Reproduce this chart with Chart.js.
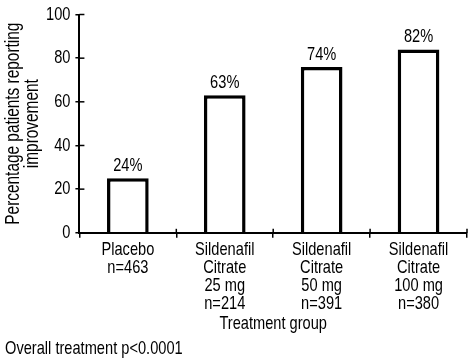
<!DOCTYPE html>
<html><head><meta charset="utf-8">
<script src="https://cdn.jsdelivr.net/npm/chart.js@4/dist/chart.umd.min.js"></script>
<style>html,body{margin:0;padding:0;background:#fff}#wrap{width:471px;height:359px}</style>
</head><body><div id="wrap"><canvas id="c"></canvas></div>
<script>
const categories = [["Placebo","n=463"],["Sildenafil","Citrate","25 mg","n=214"],["Sildenafil","Citrate","50 mg","n=391"],["Sildenafil","Citrate","100 mg","n=380"]];
const barValues = [25, 63, 76, 84];
const valueLabels = ["24%","63%","74%","82%"];
const yTicks = [0, 20, 40, 60, 80, 100];
const yTitle = ["Percentage patients reporting","improvement"];
const xTitle = "Treatment group";
const footerText = "Overall treatment p<0.0001";

const FONT = '"Liberation Sans",Arial,sans-serif';
const SX = 0.77; // horizontal condensing of text (reference uses a condensed face)
const f = (s,lh)=>({family:FONT,size:s,weight:'normal',lineHeight:lh||1});

const canvas = document.getElementById('c');
const c2d = canvas.getContext('2d');
(function condense(ctx){
  const fill = ctx.fillText.bind(ctx);
  const measure = ctx.measureText.bind(ctx);
  ctx.fillText = function(t,x,y){ ctx.save(); ctx.translate(x,y); ctx.scale(SX,1); fill(t,0,0); ctx.restore(); };
  ctx.measureText = function(t){ const m = measure(t); return {width:m.width*SX, actualBoundingBoxAscent:m.actualBoundingBoxAscent, actualBoundingBoxDescent:m.actualBoundingBoxDescent, actualBoundingBoxLeft:m.actualBoundingBoxLeft*SX, actualBoundingBoxRight:m.actualBoundingBoxRight*SX}; };
})(c2d);

const extras = {
  id:'extras',
  afterDatasetsDraw(chart){
    const ctx = chart.ctx;
    const meta = chart.getDatasetMeta(0);
    ctx.save();
    ctx.fillStyle = '#000';
    ctx.font = '19px ' + FONT;
    ctx.textAlign = 'center';
    ctx.textBaseline = 'bottom';
    meta.data.forEach((bar,i)=>{
      ctx.fillText(valueLabels[i], bar.x, bar.y - 3);
    });
    const xs = chart.scales.x, ys = chart.scales.y;
    ctx.strokeStyle = '#000'; ctx.lineWidth = 1.5;
    ys.ticks.forEach(t=>{
      const py = ys.getPixelForValue(t.value);
      ctx.beginPath(); ctx.moveTo(xs.left, py); ctx.lineTo(xs.left + 5, py); ctx.stroke();
    });
    const n = categories.length;
    for(let i=0;i<n;i++){
      const px = (i < n-1) ? (xs.getPixelForValue(i)+xs.getPixelForValue(i+1))/2 : xs.right;
      ctx.beginPath(); ctx.moveTo(px, ys.bottom); ctx.lineTo(px, ys.bottom - 4); ctx.stroke();
    }
    ctx.restore();
  }
};

new Chart(canvas, {
  type:'bar',
  data:{labels:categories, datasets:[{data:barValues, backgroundColor:'#fff', borderColor:'#000', borderWidth:3.5, barPercentage:0.43, categoryPercentage:1}]},
  options:{
    responsive:true, maintainAspectRatio:false, animation:false,
    layout:{padding:{top:4,right:4,left:5,bottom:0}},
    plugins:{
      legend:{display:false}, tooltip:{enabled:false},
      title:{display:true, text:footerText, position:'bottom', align:'start', color:'#000', font:f(19), padding:{top:6,bottom:1}}
    },
    scales:{
      x:{
        grid:{display:true, offset:true, drawOnChartArea:false, drawTicks:true, tickLength:5, color:'#000', lineWidth:1.5},
        border:{display:true, color:'#000', width:2},
        ticks:{color:'#000', font:f(19,0.95), padding:3, maxRotation:0, autoSkip:false},
        title:{display:true, text:xTitle, color:'#000', font:f(19), padding:{top:-2,bottom:0}}
      },
      y:{
        min:0, max:100,
        afterBuildTicks:(s)=>{ s.ticks = yTicks.map(v=>({value:v})); },
        grid:{display:true, drawOnChartArea:false, drawTicks:true, tickLength:4, color:'#000', lineWidth:1.5},
        border:{display:true, color:'#000', width:2},
        ticks:{color:'#000', font:f(19), padding:5},
        title:{display:true, text:yTitle, color:'#000', font:f(20,0.95), padding:{top:-1,bottom:-1}}
      }
    }
  },
  plugins:[extras]
});
</script></body></html>
